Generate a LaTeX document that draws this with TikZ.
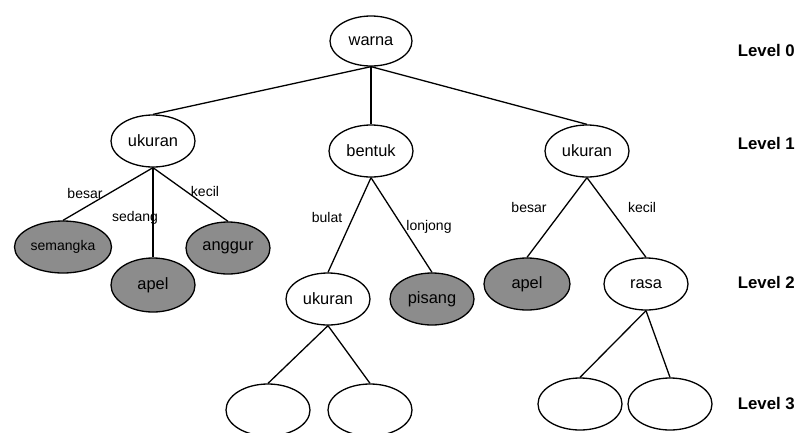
\documentclass[tikz,border=0pt]{standalone}
\usepackage{fontspec}
\setmainfont{Liberation Sans}
\usetikzlibrary{shapes}
\usetikzlibrary{calc}
\definecolor{leafgray}{RGB}{140,140,140}
\tikzstyle{main}   = [ellipse, draw=black, line width=1.3pt, inner sep=0pt, minimum width=84pt, minimum height=52pt, text centered, font=\fontsize{16.4}{18}\selectfont]
\tikzstyle{cwhite} = [fill=white]
\tikzstyle{cgray}  = [fill=leafgray]
\tikzstyle{branch} = [line width=1.3pt]
\tikzstyle{elabel} = [inner sep=0pt, font=\fontsize{14}{16}\selectfont]
\tikzstyle{lvl}    = [inner sep=0pt, anchor=east, font=\bfseries\fontsize{16.8}{18}\selectfont]

\begin{document}
\begin{tikzpicture}[x=1pt, y=-1pt]
     \useasboundingbox (0,0) rectangle (798,432);
     \clip (0,0) rectangle (798,432);
     % level 0 and 1
     \node[main, cwhite, minimum width=82pt, minimum height=50pt] (warna) at (371,41) {warna};
     \node[main, cwhite] (ukA)    at (153,141) {ukuran};
     \node[main, cwhite] (bentuk) at (371,151) {bentuk};
     \node[main, cwhite] (ukB)    at (587,151) {ukuran};
     % level 2
     \node[main, cgray, minimum width=97pt, font=\fontsize{14}{16}\selectfont] (semangka) at (63,247) {semangka};
     \node[main, cgray, minimum height=54pt] (apelA) at (153,285) {apel};
     \node[main, cgray]  (anggur) at (228,248) {anggur};
     \node[main, cwhite] (ukC)    at (328,299) {ukuran};
     \node[main, cgray]  (pisang) at (432,299) {pisang};
     \node[main, cgray, minimum width=86pt] (apelB) at (527,284) {apel};
     \node[main, cwhite] (rasa)   at (646,284) {rasa};
     % level 3
     \node[main, cwhite] (kosongA) at (268,410) {};
     \node[main, cwhite] (kosongB) at (370,410) {};
     \node[main, cwhite] (kosongC) at (580,404) {};
     \node[main, cwhite] (kosongD) at (670,404) {};

     \draw[branch] (warna.south) -- (ukA.north);
     \draw[branch] (warna.south) -- (bentuk.north);
     \draw[branch] (warna.south) -- (ukB.north);
     \draw[branch] (ukA.south) -- (semangka.north);
     \draw[branch] (ukA.south) -- (apelA.north);
     \draw[branch] (ukA.south) -- (anggur.north);
     \draw[branch] (bentuk.south) -- (ukC.north);
     \draw[branch] (bentuk.south) -- (pisang.north);
     \draw[branch] (ukB.south) -- (apelB.north);
     \draw[branch] (ukB.south) -- (rasa.north);
     \draw[branch] (ukC.south) -- (kosongA.north);
     \draw[branch] (ukC.south) -- (kosongB.north);
     \draw[branch] (rasa.south) -- (kosongC.north);
     \draw[branch] (rasa.south) -- (kosongD.north);

     % branch labels
     \node[elabel] (lbesarA)  at (85,193)  {besar};
     \node[elabel] (lsedang)  at (135,218) {sedang};
     \node[elabel] (lkecilA)  at (205,191) {kecil};
     \node[elabel] (lbulat)   at (327,217) {bulat};
     \node[elabel] (llonjong) at (429,227) {lonjong};
     \node[elabel] (lbesarB)  at (529,207) {besar};
     \node[elabel] (lkecilB)  at (642,207) {kecil};

     % levels
     \node[lvl] (lv0) at (795,50)  {Level 0};
     \node[lvl] (lv1) at (795,143) {Level 1};
     \node[lvl] (lv2) at (795,282) {Level 2};
     \node[lvl] (lv3) at (795,403) {Level 3};
\end{tikzpicture}
\end{document}
